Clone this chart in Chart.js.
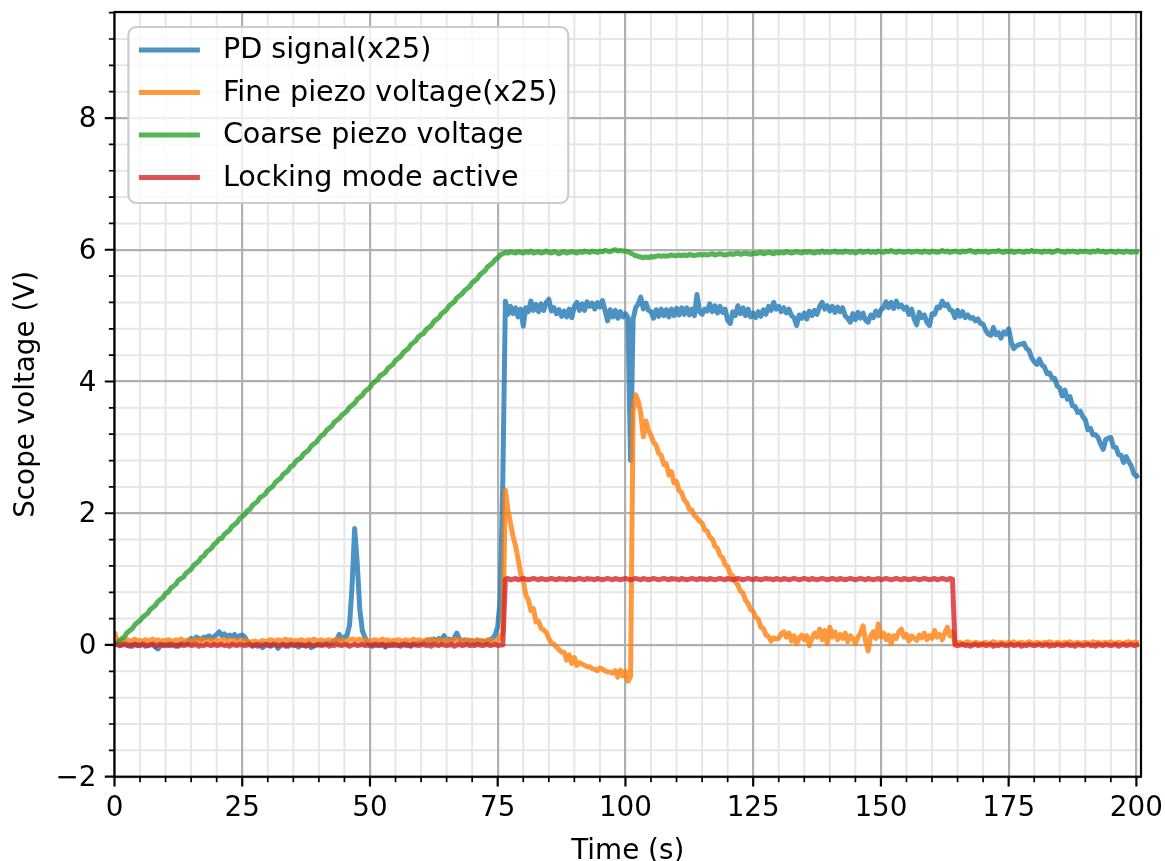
<!DOCTYPE html>
<html>
<head>
<meta charset="utf-8">
<title>Scope voltage vs time</title>
<script src="https://cdn.jsdelivr.net/npm/chart.js@4.4.1/dist/chart.umd.min.js"></script>
<style>
  html, body { margin: 0; padding: 0; background: #ffffff; }
  #wrap { width: 1165px; height: 861px; }
</style>
</head>
<body>
<div id="wrap"><canvas id="scope" width="1165" height="861"></canvas></div>
<script>
// Scope traces, one sample every SAMPLE_STEP seconds starting at t = 0 s.
const SAMPLE_STEP = 0.5;

const pdSignal = [
  0.00, 0.02, -0.01, 0.01, 0.03, 0.00, -0.02, 0.01, 0.02, -0.01, 0.00, 0.02, -0.02, -0.01, 0.01, 0.02, -0.03, -0.06, -0.01, 0.01,
  0.00, 0.02, -0.01, 0.01, 0.00, -0.02, 0.01, 0.03, 0.02, 0.06, 0.10, 0.07, 0.12, 0.10, 0.08, 0.12, 0.11, 0.14, 0.10, 0.13,
  0.16, 0.20, 0.14, 0.17, 0.12, 0.15, 0.13, 0.16, 0.11, 0.14, 0.15, 0.12, 0.05, 0.02, -0.01, 0.01, -0.02, 0.00, -0.04, -0.01,
  0.01, -0.02, 0.00, 0.02, -0.05, -0.01, 0.01, 0.00, -0.02, 0.01, 0.02, 0.00, -0.03, 0.01, 0.00, -0.01, 0.02, -0.04, -0.02, 0.01,
  0.00, 0.02, 0.01, 0.03, 0.02, 0.04, 0.06, 0.08, 0.16, 0.09, 0.12, 0.14, 0.30, 0.90, 1.77, 1.25, 0.55, 0.22, 0.12, 0.04,
  0.01, -0.02, 0.00, 0.02, -0.01, 0.01, -0.03, 0.00, 0.02, -0.01, 0.01, 0.00, -0.02, 0.01, 0.03, 0.00, -0.01, 0.02, 0.01, 0.03,
  0.02, 0.04, 0.06, 0.08, 0.05, 0.09, 0.07, 0.10, 0.08, 0.14, 0.07, 0.09, 0.06, 0.11, 0.18, 0.09, 0.06, 0.08, 0.05, 0.07,
  0.06, 0.04, 0.07, 0.05, 0.06, 0.04, 0.06, 0.08, 0.10, 0.15, 0.28, 0.70, 2.50, 5.22, 5.02, 5.14, 5.03, 5.12, 4.98, 5.10,
  4.84, 5.12, 5.06, 5.22, 5.08, 5.17, 5.06, 5.18, 5.08, 5.20, 5.25, 5.07, 5.12, 5.03, 5.09, 4.99, 5.07, 4.98, 5.10, 4.97,
  5.14, 5.20, 5.08, 5.18, 5.08, 5.21, 5.14, 5.19, 5.10, 5.20, 5.13, 5.23, 5.08, 4.92, 5.09, 4.98, 5.08, 4.96, 5.06, 4.98,
  5.03, 4.97, 2.80, 4.95, 5.12, 5.18, 5.28, 5.10, 5.19, 5.08, 5.06, 4.96, 5.09, 4.99, 5.10, 5.00, 5.09, 4.98, 5.10, 5.00,
  5.11, 5.01, 5.12, 5.02, 5.12, 5.01, 5.10, 5.00, 5.32, 5.06, 5.02, 5.10, 5.07, 5.18, 5.06, 5.15, 5.04, 5.14, 5.05, 5.10,
  4.93, 4.88, 5.06, 5.00, 5.15, 5.03, 5.12, 5.00, 5.10, 4.98, 5.04, 4.97, 5.06, 4.99, 5.09, 5.02, 5.14, 5.08, 5.20, 5.10,
  5.14, 5.06, 5.12, 5.04, 5.10, 5.00, 4.97, 4.85, 5.01, 4.96, 5.04, 4.95, 5.07, 5.00, 5.08, 5.02, 5.14, 5.20, 5.10, 5.15,
  5.07, 5.14, 5.05, 5.13, 5.06, 5.12, 5.00, 4.96, 4.90, 5.03, 4.94, 5.05, 4.96, 5.04, 4.93, 4.90, 5.01, 4.97, 5.07, 5.00,
  5.09, 5.12, 5.21, 5.12, 5.20, 5.11, 5.22, 5.13, 5.16, 5.10, 5.13, 5.02, 5.10, 4.95, 4.86, 5.05, 4.97, 5.01, 4.90, 4.85,
  5.03, 5.02, 5.13, 5.12, 5.22, 5.15, 5.17, 5.09, 5.07, 4.97, 5.08, 4.99, 5.06, 4.97, 5.01, 4.96, 4.97, 4.92, 4.95, 4.88,
  4.87, 4.78, 4.72, 4.70, 4.82, 4.71, 4.74, 4.66, 4.75, 4.72, 4.80, 4.60, 4.50, 4.54, 4.56, 4.57, 4.58, 4.50, 4.47, 4.36,
  4.30, 4.26, 4.34, 4.25, 4.22, 4.12, 4.13, 4.05, 4.05, 3.93, 3.90, 3.78, 3.87, 3.73, 3.77, 3.63, 3.62, 3.53, 3.55, 3.47,
  3.42, 3.27, 3.29, 3.19, 3.19, 3.15, 3.05, 2.97, 3.12, 3.14, 3.15, 3.01, 3.00, 2.89, 2.88, 2.77, 2.86, 2.78, 2.72, 2.60,
  2.56, 2.58
];

const finePiezo = [
  0.20, 0.08, 0.06, 0.07, 0.05, 0.08, 0.06, 0.07, 0.09, 0.06, 0.07, 0.05, 0.08, 0.06, 0.07, 0.09, 0.06, 0.08, 0.05, 0.07,
  0.06, 0.08, 0.07, 0.05, 0.08, 0.06, 0.09, 0.07, 0.06, 0.08, 0.05, 0.07, 0.08, 0.06, 0.09, 0.07, 0.06, 0.08, 0.07, 0.05,
  0.08, 0.06, 0.07, 0.09, 0.06, 0.08, 0.05, 0.07, 0.06, 0.08, 0.07, 0.05, 0.06, 0.04, 0.05, 0.06, 0.04, 0.05, 0.07, 0.05,
  0.06, 0.08, 0.07, 0.05, 0.08, 0.06, 0.07, 0.09, 0.06, 0.08, 0.05, 0.07, 0.06, 0.08, 0.07, 0.05, 0.08, 0.06, 0.09, 0.07,
  0.06, 0.08, 0.05, 0.07, 0.08, 0.06, 0.07, 0.09, 0.06, 0.08, 0.07, 0.05, 0.08, 0.09, 0.08, 0.07, 0.09, 0.06, 0.08, 0.07,
  0.05, 0.07, 0.08, 0.06, 0.07, 0.09, 0.06, 0.08, 0.05, 0.07, 0.06, 0.08, 0.07, 0.05, 0.08, 0.06, 0.07, 0.09, 0.06, 0.08,
  0.07, 0.05, 0.08, 0.06, 0.09, 0.07, 0.06, 0.08, 0.05, 0.07, 0.08, 0.06, 0.07, 0.09, 0.06, 0.08, 0.07, 0.05, 0.08, 0.06,
  0.07, 0.06, 0.08, 0.06, 0.07, 0.05, 0.08, 0.06, 0.07, 0.06, 0.08, 0.10, 0.20, 2.35, 2.05, 1.85, 1.65, 1.50, 1.30, 1.08,
  0.97, 0.76, 0.68, 0.52, 0.55, 0.35, 0.36, 0.25, 0.23, 0.19, 0.10, 0.03, 0.01, -0.03, -0.07, -0.11, -0.11, -0.23, -0.15, -0.28,
  -0.19, -0.31, -0.27, -0.29, -0.31, -0.33, -0.33, -0.36, -0.37, -0.39, -0.35, -0.37, -0.39, -0.41, -0.41, -0.43, -0.39, -0.49, -0.38, -0.47,
  -0.40, -0.55, -0.48, 3.55, 3.80, 3.70, 3.52, 3.16, 3.40, 3.26, 3.18, 3.08, 3.03, 2.91, 2.88, 2.74, 2.75, 2.58, 2.63, 2.46,
  2.48, 2.34, 2.31, 2.20, 2.16, 2.06, 2.05, 1.96, 1.93, 1.88, 1.85, 1.75, 1.73, 1.64, 1.61, 1.50, 1.47, 1.36, 1.33, 1.22,
  1.19, 1.08, 1.05, 0.96, 0.91, 0.82, 0.79, 0.68, 0.63, 0.54, 0.51, 0.42, 0.39, 0.27, 0.25, 0.15, 0.13, 0.06, 0.11, 0.09,
  0.10, 0.17, 0.20, 0.12, 0.18, 0.06, 0.14, 0.02, 0.10, 0.15, 0.08, 0.14, -0.01, 0.10, 0.18, 0.12, 0.24, 0.08, 0.22, 0.02,
  0.27, 0.12, 0.20, 0.08, 0.16, 0.10, 0.18, 0.05, 0.14, 0.10, 0.02, 0.12, 0.18, 0.29, 0.06, -0.09, 0.14, 0.20, 0.10, 0.32,
  0.12, 0.18, 0.08, 0.15, 0.02, 0.14, 0.10, 0.20, 0.24, 0.12, 0.16, 0.06, 0.14, 0.10, 0.07, 0.15, 0.11, 0.18, 0.08, 0.14,
  0.10, 0.22, 0.12, 0.16, 0.08, 0.18, 0.27, 0.14, 0.20, 0.02, 0.03, 0.04, 0.02, 0.03, 0.05, 0.03, 0.02, 0.04, 0.03, 0.02,
  0.03, 0.04, 0.02, 0.03, 0.05, 0.03, 0.02, 0.04, 0.03, 0.02, 0.04, 0.03, 0.05, 0.02, 0.03, 0.04, 0.02, 0.03, 0.05, 0.03,
  0.02, 0.04, 0.03, 0.02, 0.04, 0.03, 0.05, 0.03, 0.02, 0.04, 0.03, 0.02, 0.04, 0.03, 0.05, 0.02, 0.03, 0.04, 0.02, 0.03,
  0.04, 0.03, 0.02, 0.05, 0.03, 0.04, 0.02, 0.03, 0.04, 0.03, 0.05, 0.02, 0.03, 0.04, 0.03, 0.02, 0.04, 0.05, 0.03, 0.04,
  0.04, 0.03
];

const coarsePiezo = [
  0.00, 0.02, 0.07, 0.10, 0.13, 0.19, 0.22, 0.25, 0.31, 0.34, 0.37, 0.42, 0.45, 0.48, 0.54, 0.57, 0.60, 0.66, 0.69, 0.72,
  0.78, 0.80, 0.86, 0.89, 0.92, 0.98, 1.01, 1.03, 1.09, 1.12, 1.15, 1.21, 1.24, 1.27, 1.33, 1.35, 1.41, 1.44, 1.47, 1.53,
  1.56, 1.61, 1.62, 1.68, 1.71, 1.74, 1.80, 1.83, 1.86, 1.92, 1.95, 1.98, 2.04, 2.06, 2.12, 2.15, 2.18, 2.24, 2.26, 2.29,
  2.35, 2.38, 2.41, 2.47, 2.50, 2.53, 2.59, 2.62, 2.65, 2.71, 2.73, 2.79, 2.82, 2.84, 2.90, 2.93, 2.96, 3.02, 3.05, 3.08,
  3.13, 3.18, 3.20, 3.26, 3.29, 3.32, 3.38, 3.41, 3.44, 3.49, 3.52, 3.55, 3.61, 3.64, 3.67, 3.73, 3.76, 3.79, 3.85, 3.88,
  3.91, 3.97, 4.00, 4.03, 4.09, 4.11, 4.14, 4.20, 4.23, 4.26, 4.32, 4.35, 4.38, 4.44, 4.47, 4.50, 4.56, 4.59, 4.62, 4.68,
  4.71, 4.73, 4.79, 4.82, 4.85, 4.91, 4.94, 4.97, 5.03, 5.06, 5.09, 5.15, 5.18, 5.21, 5.27, 5.30, 5.33, 5.38, 5.41, 5.44,
  5.50, 5.53, 5.56, 5.62, 5.65, 5.68, 5.74, 5.77, 5.80, 5.85, 5.88, 5.92, 5.94, 5.96, 5.95, 5.97, 5.96, 5.95, 5.97, 5.96,
  5.95, 5.97, 5.96, 5.98, 5.95, 5.96, 5.97, 5.95, 5.96, 5.98, 5.96, 5.95, 5.97, 5.96, 5.94, 5.96, 5.97, 5.95, 5.96, 5.97,
  5.96, 5.95, 5.97, 5.96, 5.98, 5.97, 5.96, 5.98, 5.97, 5.96, 5.98, 5.97, 5.99, 5.98, 5.97, 5.99, 6.00, 5.98, 5.99, 5.98,
  5.98, 5.97, 5.95, 5.93, 5.91, 5.90, 5.89, 5.88, 5.89, 5.88, 5.90, 5.89, 5.90, 5.91, 5.90, 5.91, 5.90, 5.91, 5.92, 5.91,
  5.91, 5.92, 5.91, 5.92, 5.91, 5.93, 5.92, 5.91, 5.92, 5.93, 5.92, 5.93, 5.92, 5.93, 5.94, 5.92, 5.93, 5.94, 5.93, 5.92,
  5.93, 5.94, 5.93, 5.94, 5.95, 5.93, 5.94, 5.95, 5.94, 5.93, 5.95, 5.94, 5.95, 5.96, 5.94, 5.95, 5.96, 5.95, 5.94, 5.96,
  5.95, 5.96, 5.95, 5.97, 5.96, 5.95, 5.96, 5.97, 5.96, 5.95, 5.97, 5.96, 5.97, 5.96, 5.95, 5.97, 5.96, 5.98, 5.96, 5.97,
  5.96, 5.97, 5.98, 5.96, 5.97, 5.96, 5.98, 5.97, 5.96, 5.97, 5.95, 5.97, 5.98, 5.96, 5.97, 5.98, 5.96, 5.97, 5.96, 5.98,
  5.97, 5.96, 5.98, 5.97, 5.99, 5.97, 5.96, 5.98, 5.97, 5.96, 5.97, 5.98, 5.96, 5.97, 5.98, 5.97, 5.96, 5.98, 5.97, 5.96,
  5.98, 5.97, 5.96, 5.97, 5.99, 5.97, 5.98, 5.96, 5.97, 5.98, 5.97, 5.96, 5.98, 5.97, 5.98, 5.99, 5.97, 5.96, 5.98, 5.97,
  5.97, 5.98, 5.96, 5.97, 5.98, 5.97, 5.99, 5.97, 5.96, 5.98, 5.97, 5.98, 5.96, 5.97, 5.98, 5.97, 5.96, 5.98, 5.97, 5.99,
  5.97, 5.98, 5.97, 5.96, 5.98, 5.97, 5.98, 5.96, 5.97, 5.99, 5.98, 5.97, 5.96, 5.98, 5.97, 5.98, 5.97, 5.96, 5.98, 5.97,
  5.98, 5.97, 5.96, 5.98, 5.97, 5.99, 5.97, 5.98, 5.96, 5.97, 5.98, 5.97, 5.96, 5.98, 5.97, 5.96, 5.98, 5.97, 5.96, 5.97,
  5.97, 5.96
];

const lockingMode = [
  0.00, 0.01, -0.01, 0.00, 0.01, -0.01, 0.00, -0.02, 0.01, 0.00, -0.01, 0.01, 0.00, -0.01, 0.00, 0.01, -0.02, 0.00, 0.01, -0.01,
  0.00, -0.01, 0.01, 0.00, -0.02, 0.00, 0.01, -0.01, 0.00, 0.01, -0.01, 0.00, 0.01, -0.02, 0.00, -0.01, 0.01, 0.00, -0.01, 0.01,
  -0.01, 0.00, 0.01, -0.01, 0.00, -0.02, 0.01, 0.00, -0.01, 0.01, 0.00, -0.01, 0.00, 0.01, -0.02, 0.00, 0.01, -0.01, 0.00, 0.01,
  0.00, -0.01, 0.01, 0.00, -0.01, 0.00, 0.01, -0.02, 0.00, 0.01, -0.01, 0.00, 0.01, -0.01, 0.00, -0.02, 0.01, 0.00, -0.01, 0.00,
  0.01, -0.01, 0.00, 0.01, -0.02, 0.00, -0.01, 0.01, 0.00, -0.01, 0.01, 0.00, -0.02, 0.00, 0.01, -0.01, 0.00, 0.01, -0.01, 0.00,
  -0.01, 0.00, 0.01, -0.01, 0.00, 0.01, -0.02, 0.00, -0.01, 0.01, 0.00, -0.01, 0.00, 0.01, -0.01, 0.00, -0.02, 0.01, 0.00, -0.01,
  0.00, 0.01, -0.01, 0.00, -0.02, 0.01, 0.00, -0.01, 0.01, 0.00, -0.01, 0.00, 0.01, -0.02, 0.00, 0.01, -0.01, 0.00, 0.01, -0.01,
  0.00, -0.01, 0.01, 0.00, -0.01, 0.00, 0.01, -0.01, 0.00, 0.01, -0.01, 0.00, 0.00, 1.00, 1.01, 0.99, 1.00, 1.01, 0.99, 1.00,
  1.01, 1.00, 0.99, 1.00, 1.01, 1.00, 0.99, 1.01, 1.00, 0.99, 1.00, 1.01, 1.00, 0.99, 1.01, 1.00, 1.00, 0.99, 1.01, 1.00,
  0.99, 1.00, 1.01, 1.00, 0.99, 1.01, 1.00, 1.00, 0.99, 1.01, 1.00, 0.99, 1.00, 1.01, 1.00, 0.99, 1.01, 1.00, 0.99, 1.00,
  1.01, 1.00, 0.99, 1.00, 1.01, 1.00, 0.99, 1.01, 1.00, 0.99, 1.00, 1.01, 1.00, 0.99, 1.00, 1.01, 1.00, 0.99, 1.01, 1.00,
  1.00, 0.99, 1.01, 1.00, 0.99, 1.00, 1.01, 1.00, 0.99, 1.01, 1.00, 1.00, 0.99, 1.01, 1.00, 0.99, 1.00, 1.01, 1.00, 0.99,
  1.01, 1.00, 0.99, 1.00, 1.01, 1.00, 0.99, 1.00, 1.01, 1.00, 0.99, 1.01, 1.00, 0.99, 1.00, 1.01, 1.00, 1.00, 0.99, 1.01,
  1.00, 0.99, 1.01, 1.00, 0.99, 1.00, 1.01, 1.00, 0.99, 1.00, 1.01, 1.00, 0.99, 1.01, 1.00, 0.99, 1.00, 1.01, 1.00, 0.99,
  1.00, 1.01, 1.00, 0.99, 1.01, 1.00, 0.99, 1.00, 1.01, 1.00, 0.99, 1.00, 1.01, 1.00, 0.99, 1.01, 1.00, 0.99, 1.00, 1.01,
  0.99, 1.00, 1.01, 1.00, 0.99, 1.00, 1.01, 1.00, 0.99, 1.01, 1.00, 0.99, 1.00, 1.01, 1.00, 0.99, 1.00, 1.01, 1.00, 0.99,
  1.00, 1.01, 0.99, 1.00, 1.01, 1.00, 0.99, 1.01, 1.00, 0.00, -0.01, 0.00, 0.01, -0.01, 0.00, -0.02, 0.00, 0.01, -0.01, 0.00,
  0.01, -0.01, 0.00, 0.01, -0.02, 0.00, -0.01, 0.01, 0.00, -0.01, 0.00, 0.01, -0.01, 0.00, 0.01, -0.02, 0.00, -0.01, 0.01, 0.00,
  -0.01, 0.00, 0.01, -0.01, 0.00, 0.01, -0.02, 0.00, -0.01, 0.01, 0.00, -0.01, 0.00, 0.01, -0.01, 0.00, -0.02, 0.01, 0.00, -0.01,
  0.00, 0.01, -0.01, 0.00, -0.02, 0.01, 0.00, -0.01, 0.01, 0.00, -0.01, 0.00, 0.01, -0.02, 0.00, 0.01, -0.01, 0.00, 0.01, -0.01,
  0.00, 0.01
];

const seriesLabels = ['PD signal(x25)', 'Fine piezo voltage(x25)', 'Coarse piezo voltage', 'Locking mode active'];
const seriesColors = ['rgba(31,119,180,0.8)', 'rgba(255,127,14,0.8)', 'rgba(44,160,44,0.8)', 'rgba(214,39,40,0.8)'];

const xMajorTicks = [0, 25, 50, 75, 100, 125, 150, 175, 200];
const yMajorTicks = [-2, 0, 2, 4, 6, 8];
const X_MINOR_STEP = 5;
const Y_MINOR_STEP = 0.4;
const X_RANGE = [0, 200.9];
const Y_RANGE = [-2, 9.61];

const FONT_FAMILY = '"DejaVu Sans", "Liberation Sans", sans-serif';
const FONT_PX = 27.8;
const LEGEND_FONT_PX = 28.6;

function toPoints(values) {
  return values.map((v, i) => ({ x: i * SAMPLE_STEP, y: v }));
}

function tickText(v) {
  return v < 0 ? '\u2212' + Math.abs(v) : String(v);
}

function minorValues(lo, hi, step, majors) {
  const out = [];
  const n0 = Math.ceil(lo / step - 1e-9), n1 = Math.floor(hi / step + 1e-9);
  for (let n = n0; n <= n1; n++) {
    const v = +(n * step).toFixed(6);
    if (!majors.some(m => Math.abs(m - v) < 1e-6)) out.push(v);
  }
  return out;
}

// Fix the plot box: no extra room reserved for overhanging tick labels.
function pinBox(size, key) {
  return s => {
    s[key] = size;
    s.paddingLeft = 0; s.paddingRight = 0; s.paddingTop = 0; s.paddingBottom = 0;
  };
}

// White page + light minor grid underneath everything the scales draw.
const minorGrid = {
  id: 'minorGrid',
  beforeDraw(chart) {
    const { ctx, chartArea: a, scales: { x, y } } = chart;
    ctx.save();
    ctx.fillStyle = '#ffffff';
    ctx.fillRect(0, 0, chart.width, chart.height);
    ctx.strokeStyle = '#e6e6e6';
    ctx.lineWidth = 2;
    ctx.beginPath();
    minorValues(X_RANGE[0], X_RANGE[1], X_MINOR_STEP, xMajorTicks).forEach(v => {
      const px = x.getPixelForValue(v);
      ctx.moveTo(px, a.top); ctx.lineTo(px, a.bottom);
    });
    minorValues(Y_RANGE[0], Y_RANGE[1], Y_MINOR_STEP, yMajorTicks).forEach(v => {
      const py = y.getPixelForValue(v);
      ctx.moveTo(a.left, py); ctx.lineTo(a.right, py);
    });
    ctx.stroke();
    ctx.restore();
  }
};

// Axes frame, outward tick marks and the framed legend in the upper left.
const frameAndLegend = {
  id: 'frameAndLegend',
  afterDatasetsDraw(chart) {
    const { ctx, chartArea: a, scales: { x, y } } = chart;
    ctx.save();

    // tick marks
    ctx.strokeStyle = '#000000';
    ctx.lineWidth = 2.2;
    ctx.beginPath();
    xMajorTicks.forEach(v => { const px = x.getPixelForValue(v); ctx.moveTo(px, a.bottom); ctx.lineTo(px, a.bottom + 9.7); });
    yMajorTicks.forEach(v => { const py = y.getPixelForValue(v); ctx.moveTo(a.left, py); ctx.lineTo(a.left - 9.7, py); });
    ctx.stroke();
    ctx.lineWidth = 1.7;
    ctx.beginPath();
    minorValues(X_RANGE[0], X_RANGE[1], X_MINOR_STEP, xMajorTicks).forEach(v => { const px = x.getPixelForValue(v); ctx.moveTo(px, a.bottom); ctx.lineTo(px, a.bottom + 5.6); });
    minorValues(Y_RANGE[0], Y_RANGE[1], Y_MINOR_STEP, yMajorTicks).forEach(v => { const py = y.getPixelForValue(v); ctx.moveTo(a.left, py); ctx.lineTo(a.left - 5.6, py); });
    ctx.stroke();

    // spines
    ctx.lineWidth = 2.2;
    ctx.strokeRect(a.left, a.top, a.right - a.left, a.bottom - a.top);

    // legend
    ctx.font = LEGEND_FONT_PX + 'px ' + FONT_FAMILY;
    const sets = chart.data.datasets;
    const textW = Math.max(...sets.map(d => ctx.measureText(d.label).width));
    const pad = 10.5, handle = 61, gap = 23, rowH = 42.5;
    const bx = a.left + 13.9, by = a.top + 15;
    const bw = pad + handle + gap + textW + pad, bh = 176, r = 8;
    ctx.beginPath();
    ctx.moveTo(bx + r, by);
    ctx.arcTo(bx + bw, by, bx + bw, by + bh, r);
    ctx.arcTo(bx + bw, by + bh, bx, by + bh, r);
    ctx.arcTo(bx, by + bh, bx, by, r);
    ctx.arcTo(bx, by, bx + bw, by, r);
    ctx.closePath();
    ctx.fillStyle = 'rgba(255,255,255,0.8)';
    ctx.fill();
    ctx.strokeStyle = '#cccccc';
    ctx.lineWidth = 2.2;
    ctx.stroke();

    ctx.textBaseline = 'middle';
    ctx.textAlign = 'left';
    sets.forEach((d, i) => {
      const cy = by + 23 + i * rowH;
      ctx.strokeStyle = d.borderColor;
      ctx.lineWidth = d.borderWidth;
      ctx.lineCap = 'butt';
      ctx.beginPath();
      ctx.moveTo(bx + pad, cy);
      ctx.lineTo(bx + pad + handle, cy);
      ctx.stroke();
      ctx.fillStyle = '#000000';
      ctx.fillText(d.label, bx + pad + handle + gap, cy + 1);
    });
    ctx.restore();
  }
};

const traces = [pdSignal, finePiezo, coarsePiezo, lockingMode];
const datasets = traces.map((values, i) => ({
  label: seriesLabels[i],
  data: toPoints(values),
  borderColor: seriesColors[i],
  backgroundColor: seriesColors[i],
  borderWidth: 5,
  borderJoinStyle: 'round',
  borderCapStyle: 'butt',
  pointRadius: 0,
  tension: 0,
  fill: false,
  order: traces.length - i
}));

const tickFont = { family: FONT_FAMILY, size: FONT_PX };

new Chart(document.getElementById('scope'), {
  type: 'line',
  data: { datasets },
  options: {
    responsive: false,
    animation: false,
    devicePixelRatio: 1,
    parsing: false,
    normalized: true,
    events: [],
    layout: { padding: { left: 0, right: 24, top: 12, bottom: 0 } },
    plugins: { legend: { display: false }, tooltip: { enabled: false } },
    scales: {
      x: {
        type: 'linear',
        min: X_RANGE[0],
        max: X_RANGE[1],
        afterBuildTicks: s => { s.ticks = xMajorTicks.map(v => ({ value: v })); },
        afterFit: pinBox(84.3, 'height'),
        grid: { color: '#b0b0b0', lineWidth: 2.2, drawTicks: false },
        border: { display: false },
        ticks: { color: '#000000', font: tickFont, padding: 15, maxRotation: 0, autoSkip: false, callback: v => tickText(v) },
        title: { display: true, text: 'Time (s)', color: '#000000', font: { family: FONT_FAMILY, size: FONT_PX, lineHeight: 0.9 }, padding: { top: 0, bottom: -3 } }
      },
      y: {
        type: 'linear',
        min: Y_RANGE[0],
        max: Y_RANGE[1],
        afterBuildTicks: s => { s.ticks = yMajorTicks.map(v => ({ value: v })); },
        afterFit: pinBox(114.5, 'width'),
        grid: { color: '#b0b0b0', lineWidth: 2.2, drawTicks: false },
        border: { display: false },
        ticks: { color: '#000000', font: tickFont, padding: 18, labelOffset: 1.8, autoSkip: false, callback: v => tickText(v) },
        title: { display: true, text: 'Scope voltage (V)', color: '#000000', font: { family: FONT_FAMILY, size: FONT_PX, lineHeight: 1.2 }, padding: { top: 10, bottom: 0 } }
      }
    }
  },
  plugins: [minorGrid, frameAndLegend]
});
</script>
</body>
</html>
